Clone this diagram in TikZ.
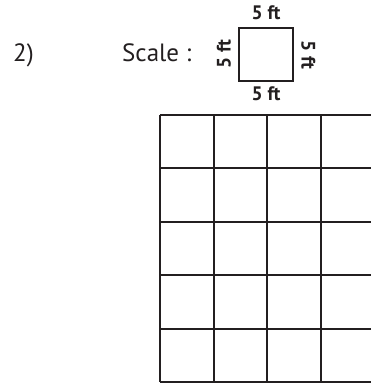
\documentclass[tikz,border=0pt]{standalone}
\usepackage{fontspec}
\setmainfont{PT Sans}
\usetikzlibrary{positioning}
\definecolor{ink}{HTML}{231F20}
\tikzset{
  bigtext/.style={font=\fontsize{25}{30}\selectfont,text=ink,inner sep=0pt},
  sidetext/.style={font=\fontsize{19.5}{22}\bfseries\selectfont,text=ink,inner sep=0pt,anchor=base}
}

\begin{document}
\begin{tikzpicture}[x=1pt,y=-1pt]
  \useasboundingbox (0,0) rectangle (371,385);
  %LABELS
  \node[bigtext,anchor=base west] (num) at (13,61.5) {2)};
  \node[bigtext,anchor=base west] (scale) at (122,61.5) {Scale :};
  %SCALE SQUARE
  \coordinate (sqa) at (239,28);
  \coordinate (sqb) at (292.7,81);
  \draw[ink,line width=1.7pt] (sqa) rectangle (sqb);
  \node[sidetext] (top) at (266,20) {5 ft};
  \node[sidetext] (bottom) at (266,100) {5 ft};
  \node[sidetext,rotate=90] (left) at (230.7,54) {5 ft};
  \node[sidetext,rotate=-90] (right) at (301.7,54.5) {5 ft};
  %GRID
  \clip (0,0) rectangle (371,385);
  \foreach \i in {0,...,4}
    \draw[ink,line width=2pt] (160+53.5*\i,115) -- (160+53.5*\i,382.3);
  \foreach \j in {0,...,5}
    \draw[ink,line width=2pt] (160,115+53.46*\j) -- (380,115+53.46*\j);
\end{tikzpicture}
\end{document}
